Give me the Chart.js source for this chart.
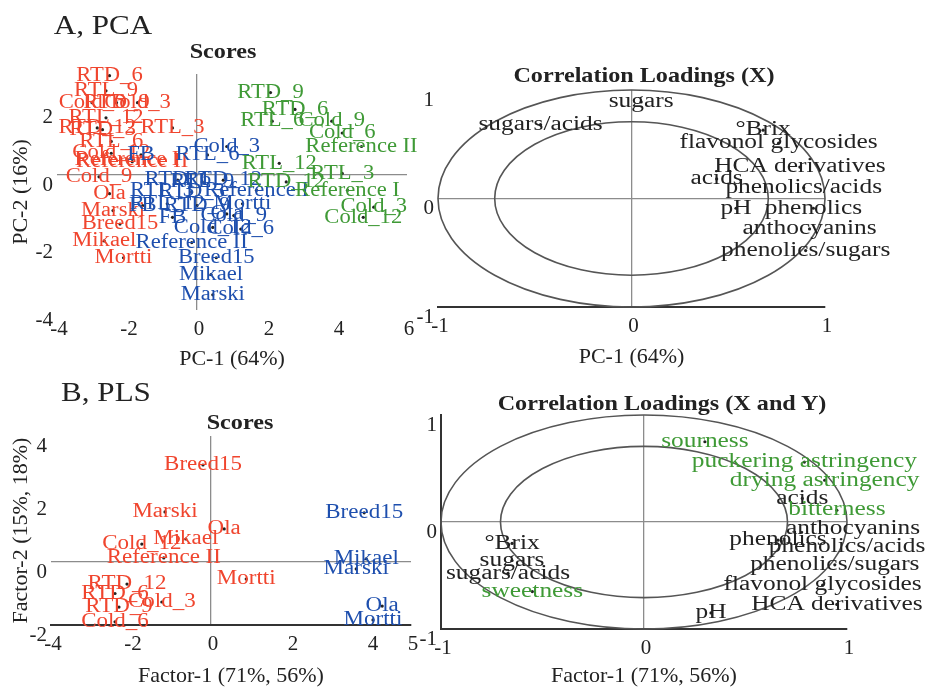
<!DOCTYPE html>
<html lang="en">
<head>
  <meta charset="UTF-8">
  <title>PCA / PLS</title>
  <style>
    body { margin: 0; background: #fff; }
    .fig {
      position: relative;
      width: 929px;
      height: 689px;
      overflow: hidden;
      font-family: "Liberation Serif", serif;
      color: #222;
    }
    .fig canvas { position: absolute; }
    .lbl {
      position: absolute;
      white-space: nowrap;
      transform: translate(-50%, -50%) scaleX(1.15);
    }
    .panel { font-size: 27px; }
    .ttl { font-size: 21px; font-weight: bold; }
  </style>
</head>
<body>
  <div class="fig">
    <canvas id="pca-scores" width="425" height="332" style="left:0;top:40px"></canvas>
    <canvas id="pca-loadings" width="519" height="330" style="left:410px;top:40px"></canvas>
    <canvas id="pls-scores" width="430" height="289" style="left:0;top:400px"></canvas>
    <canvas id="pls-loadings" width="519" height="309" style="left:410px;top:380px"></canvas>

    <div class="lbl panel" style="left:103px;top:25px">A, PCA</div>
    <div class="lbl ttl" style="left:223px;top:51px">Scores</div>
    <div class="lbl ttl" style="left:644px;top:75px">Correlation Loadings (X)</div>
    <div class="lbl panel" style="left:106px;top:392px">B, PLS</div>
    <div class="lbl ttl" style="left:240px;top:422px">Scores</div>
    <div class="lbl ttl" style="left:662px;top:403px">Correlation Loadings (X and Y)</div>
  </div>

  <script src="https://cdn.jsdelivr.net/npm/chart.js@4.4.1/dist/chart.umd.min.js"></script>
  <script>
    // A, PCA scores
    const PCA_RED_LABELS = ['RTD_6', 'RTL_9', 'Cold_6', 'RTD_9', 'Cold_3', 'RTL_12', 'RTD_12', 'RTD_3', 'RTL_3', 'RTL_6', 'Cold_12', 'Reference I', 'Reference II', 'Cold_9', 'Ola', 'Marski', 'Breed15', 'Mikael', 'Mortti'];
    const PCA_RED_X = [-2.5, -2.6, -3.0, -2.3, -1.7, -2.6, -2.85, -2.7, -0.7, -2.45, -2.45, -2.0, -1.85, -2.8, -2.5, -2.4, -2.2, -2.65, -2.1];
    const PCA_RED_Y = [2.95, 2.5, 2.15, 2.15, 2.15, 1.7, 1.4, 1.35, 1.4, 1.0, 0.65, 0.45, 0.4, -0.05, -0.55, -1.05, -1.45, -1.95, -2.45];

    const PCA_BLUE_LABELS = ['FB', 'RTL_6', 'Cold_3', 'RTD_6', 'RTL_9', 'RTD_12', 'RTL_3', 'RTD_3', 'Reference I', 'RTL_12', 'Mortti', 'FB', 'RTD_9', 'FB', 'Ola', 'Cold_9', 'Cold_12', 'Cold_6', 'Reference II', 'Breed15', 'Mikael', 'Marski'];
    const PCA_BLUE_X = [-1.6, 0.3, 0.85, -0.55, 0.15, 0.75, -1.0, -0.15, 1.7, -0.85, 1.3, -1.55, 0.0, -0.7, 0.85, 1.05, 0.45, 1.25, -0.15, 0.55, 0.4, 0.45];
    const PCA_BLUE_Y = [0.6, 0.6, 0.85, -0.15, -0.2, -0.15, -0.45, -0.5, -0.45, -0.85, -0.85, -0.9, -0.9, -1.25, -1.15, -1.2, -1.55, -1.6, -2.0, -2.45, -2.95, -3.55];

    const PCA_GREEN_LABELS = ['RTD_9', 'RTD_6', 'RTL_6', 'Cold_9', 'Cold_6', 'Reference II', 'RTL_12', 'RTL_3', 'RTD_12', 'Reference I', 'Cold_3', 'Cold_12'];
    const PCA_GREEN_X = [2.1, 2.8, 2.15, 3.85, 4.15, 4.7, 2.35, 4.15, 2.55, 4.3, 5.05, 4.75];
    const PCA_GREEN_Y = [2.45, 1.95, 1.6, 1.6, 1.25, 0.85, 0.35, 0.05, -0.2, -0.45, -0.95, -1.25];

    // A, PCA correlation loadings
    const PCA_LOAD_LABELS = ['sugars', 'sugars/acids', '°Brix', 'flavonol glycosides', 'HCA derivatives', 'acids', 'phenolics/acids', 'pH', 'phenolics', 'anthocyanins', 'phenolics/sugars'];
    const PCA_LOAD_X = [0.05, -0.47, 0.68, 0.76, 0.87, 0.44, 0.89, 0.54, 0.94, 0.92, 0.9];
    const PCA_LOAD_Y = [0.89, 0.68, 0.63, 0.51, 0.29, 0.18, 0.1, -0.09, -0.09, -0.28, -0.48];

    // B, PLS scores
    const PLS_RED_LABELS = ['Breed15', 'Marski', 'Ola', 'Mikael', 'Cold_12', 'Reference II', 'Mortti', 'RTD_12', 'RTD_6', 'Cold_3', 'RTD_9', 'Cold_6'];
    const PLS_RED_X = [-0.2, -1.15, 0.33, -0.63, -1.73, -1.18, 0.88, -2.1, -2.4, -1.23, -2.3, -2.4];
    const PLS_RED_Y = [3.08, 1.59, 1.05, 0.73, 0.57, 0.13, -0.54, -0.7, -1.0, -1.27, -1.43, -1.9];

    const PLS_BLUE_LABELS = ['Breed15', 'Mikael', 'Marski', 'Ola', 'Mortti'];
    const PLS_BLUE_X = [3.83, 3.88, 3.63, 4.28, 4.05];
    const PLS_BLUE_Y = [1.56, 0.1, -0.22, -1.4, -1.84];

    // B, PLS correlation loadings (X black, Y green)
    const PLS_X_LABELS = ['acids', 'anthocyanins', 'phenolics', 'phenolics/acids', 'phenolics/sugars', 'flavonol glycosides', 'HCA derivatives', 'pH', '°Brix', 'sugars', 'sugars/acids'];
    const PLS_X_X = [0.78, 1.03, 0.66, 1.0, 0.94, 0.88, 0.95, 0.33, -0.65, -0.65, -0.67];
    const PLS_X_Y = [0.22, -0.06, -0.17, -0.23, -0.4, -0.59, -0.77, -0.85, -0.2, -0.36, -0.48];

    const PLS_Y_LABELS = ['sourness', 'puckering astringency', 'drying astringency', 'bitterness', 'sweetness'];
    const PLS_Y_X = [0.3, 0.79, 0.89, 0.95, -0.55];
    const PLS_Y_Y = [0.75, 0.56, 0.39, 0.11, -0.65];

    const CIRCLE_RADII = [1, 0.707];
    const SCORE_TICKS_X = [-4, -2, 0, 2, 4, 6];
    const SCORE_TICKS_Y = [-4, -2, 0, 2];
    const PLS_TICKS_X = [-4, -2, 0, 2, 4, 5];
    const PLS_TICKS_Y = [-2, 0, 2, 4];
    const LOAD_TICKS = [-1, 0, 1];

    const RED = '#f0452e';
    const BLUE = '#1e4fae';
    const GREEN = '#3f9a36';
    const INK = '#222';
    const FONT = '"Liberation Serif", serif';

    function toPoints(xs, ys) {
      return xs.map((x, i) => ({ x: x, y: ys[i] }));
    }

    function series(labels, xs, ys, color) {
      return {
        data: toPoints(xs, ys),
        labels: labels,
        textColor: color,
        pointRadius: 1.6,
        pointBackgroundColor: '#222',
        pointBorderWidth: 0
      };
    }

    // reference circles (r = 1 and r = sqrt(0.5)) in data units
    const circlePlugin = {
      id: 'circles',
      beforeDatasetsDraw(chart, args, opts) {
        if (!opts.radii) return;
        const { ctx, scales: { x, y } } = chart;
        const cx = x.getPixelForValue(0);
        const cy = y.getPixelForValue(0);
        ctx.save();
        ctx.strokeStyle = '#555';
        ctx.lineWidth = 1.6;
        for (const r of opts.radii) {
          ctx.beginPath();
          ctx.ellipse(cx, cy, x.getPixelForValue(r) - cx, cy - y.getPixelForValue(r), 0, 0, Math.PI * 2);
          ctx.stroke();
        }
        ctx.restore();
      }
    };

    // sample / variable names drawn centred on their points
    const labelPlugin = {
      id: 'pointNames',
      afterDatasetsDraw(chart, args, opts) {
        const ctx = chart.ctx;
        ctx.save();
        ctx.font = `${opts.size}px ${FONT}`;
        ctx.textAlign = 'center';
        ctx.textBaseline = 'middle';
        chart.data.datasets.forEach((ds, i) => {
          const meta = chart.getDatasetMeta(i);
          ctx.fillStyle = ds.textColor;
          meta.data.forEach((el, j) => {
            ctx.save();
            ctx.translate(el.x, el.y);
            ctx.scale(opts.stretch, 1);
            ctx.fillText(ds.labels[j], 0, 0);
            ctx.restore();
          });
        });
        ctx.restore();
      }
    };

    function axis(min, max, ticks, fit, title, border, vertical) {
      return {
        type: 'linear',
        min: min,
        max: max,
        afterBuildTicks: a => { a.ticks = ticks.map(v => ({ value: v })); },
        afterFit: fit,
        grid: {
          drawTicks: false,
          lineWidth: 1.3,
          color: c => (c.tick && c.tick.value === 0) ? '#8c8c8c' : 'rgba(0,0,0,0)'
        },
        border: border ? { display: true, color: '#333', width: 2 } : { display: false },
        ticks: {
          font: { family: FONT, size: 21 },
          color: INK,
          padding: vertical ? 4 : 7,
          labelOffset: vertical ? 10 : 2,
          autoSkip: false,
          maxRotation: 0
        },
        title: {
          display: !!title,
          text: title || '',
          color: INK,
          font: { family: FONT, size: 22 },
          padding: vertical ? { top: 8, bottom: 0 } : 0
        }
      };
    }

    function makeChart(id, cfg) {
      const canvas = document.getElementById(id);
      const h = canvas.height - cfg.area.bottom;
      return new Chart(canvas, {
        type: 'scatter',
        data: { datasets: cfg.datasets },
        plugins: [circlePlugin, labelPlugin],
        options: {
          responsive: false,
          animation: false,
          layout: { padding: { top: cfg.area.top, right: canvas.width - cfg.area.right, left: 0, bottom: 0 } },
          plugins: {
            legend: { display: false },
            tooltip: { enabled: false },
            circles: { radii: cfg.circles },
            pointNames: { size: cfg.textSize, stretch: cfg.stretch }
          },
          scales: {
            x: axis(cfg.x[0], cfg.x[1], cfg.xTicks, s => { s.height = h; }, cfg.xTitle, cfg.xBorder, false),
            y: axis(cfg.y[0], cfg.y[1], cfg.yTicks, s => { s.width = cfg.area.left; }, cfg.yTitle, cfg.yBorder, true)
          }
        }
      });
    }

    makeChart('pca-scores', {
      area: { left: 57, top: 34, right: 407, bottom: 270 },
      x: [-4, 6], y: [-4, 3],
      xTicks: SCORE_TICKS_X, yTicks: SCORE_TICKS_Y,
      xTitle: 'PC-1 (64%)', yTitle: 'PC-2 (16%)',
      xBorder: false, yBorder: false,
      textSize: 20, stretch: 1.13,
      datasets: [
        series(PCA_RED_LABELS, PCA_RED_X, PCA_RED_Y, RED),
        series(PCA_BLUE_LABELS, PCA_BLUE_X, PCA_BLUE_Y, BLUE),
        series(PCA_GREEN_LABELS, PCA_GREEN_X, PCA_GREEN_Y, GREEN)
      ]
    });

    makeChart('pca-loadings', {
      area: { left: 28, top: 50, right: 415, bottom: 267 },
      x: [-1, 1], y: [-1, 1],
      xTicks: LOAD_TICKS, yTicks: LOAD_TICKS,
      xTitle: 'PC-1 (64%)', yTitle: null,
      xBorder: true, yBorder: false,
      textSize: 20, stretch: 1.27,
      circles: CIRCLE_RADII,
      datasets: [
        series(PCA_LOAD_LABELS, PCA_LOAD_X, PCA_LOAD_Y, INK)
      ]
    });

    makeChart('pls-scores', {
      area: { left: 51, top: 36, right: 411, bottom: 225 },
      x: [-4, 5], y: [-2, 4],
      xTicks: PLS_TICKS_X, yTicks: PLS_TICKS_Y,
      xTitle: 'Factor-1 (71%, 56%)', yTitle: 'Factor-2 (15%, 18%)',
      xBorder: true, yBorder: false,
      textSize: 20, stretch: 1.15,
      datasets: [
        series(PLS_RED_LABELS, PLS_RED_X, PLS_RED_Y, RED),
        series(PLS_BLUE_LABELS, PLS_BLUE_X, PLS_BLUE_Y, BLUE)
      ]
    });

    makeChart('pls-loadings', {
      area: { left: 31, top: 35, right: 437, bottom: 249 },
      x: [-1, 1], y: [-1, 1],
      xTicks: LOAD_TICKS, yTicks: LOAD_TICKS,
      xTitle: 'Factor-1 (71%, 56%)', yTitle: null,
      xBorder: true, yBorder: true,
      textSize: 20, stretch: 1.27,
      circles: CIRCLE_RADII,
      datasets: [
        series(PLS_X_LABELS, PLS_X_X, PLS_X_Y, INK),
        series(PLS_Y_LABELS, PLS_Y_X, PLS_Y_Y, GREEN)
      ]
    });
  </script>
</body>
</html>
